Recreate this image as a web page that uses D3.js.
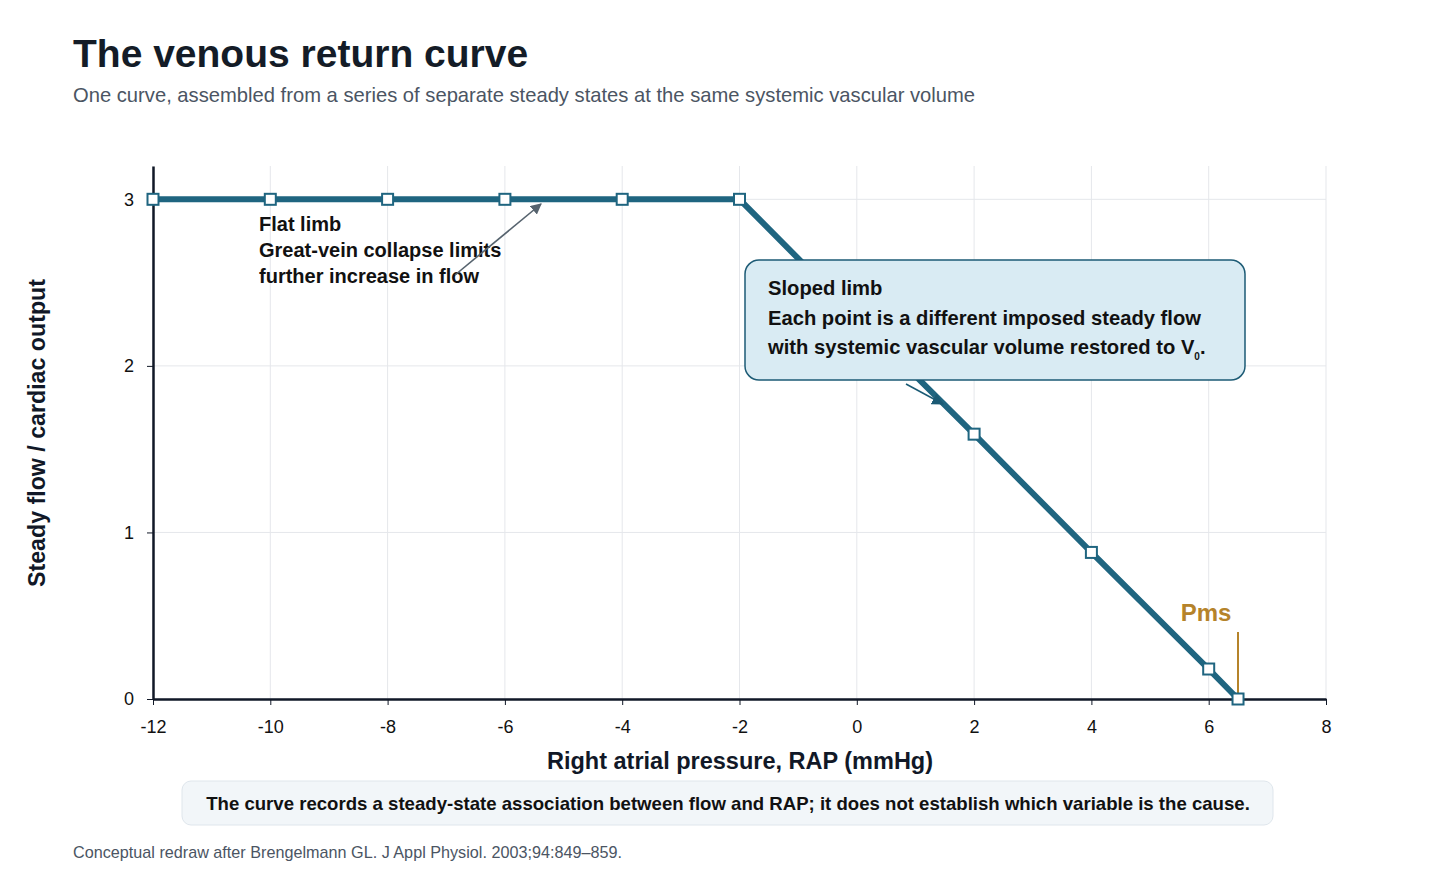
<!DOCTYPE html>
<html>
<head>
<meta charset="utf-8">
<script src="https://cdn.jsdelivr.net/npm/d3@7"></script>
<style>
  html, body { margin: 0; padding: 0; background: #fff; }
  svg { display: block; font-family: "Liberation Sans", Arial, Helvetica, sans-serif; }
</style>
</head>
<body>
<svg id="chart" width="1456" height="890"></svg>
<script>
// ---- data ----
const rapValues  = [-12, -10, -8, -6, -4, -2, 0, 2, 4, 6, 6.5];
const flowValues = [3, 3, 3, 3, 3, 3, 2.29, 1.59, 0.88, 0.18, 0];
const xTicks = [-12, -10, -8, -6, -4, -2, 0, 2, 4, 6, 8];
const yTicks = [0, 1, 2, 3];
const pmsValue = 6.5;
const titleText = "The venous return curve";
const subtitleText = "One curve, assembled from a series of separate steady states at the same systemic vascular volume";
const xLabel = "Right atrial pressure, RAP (mmHg)";
const yLabel = "Steady flow / cardiac output";
const flatLimbLines = ["Flat limb", "Great-vein collapse limits", "further increase in flow"];
const slopedLimbLines = ["Sloped limb", "Each point is a different imposed steady flow", "with systemic vascular volume restored to V"];
const noteText = "The curve records a steady-state association between flow and RAP; it does not establish which variable is the cause.";
const sourceText = "Conceptual redraw after Brengelmann GL. J Appl Physiol. 2003;94:849\u2013859.";

const data = rapValues.map((x, i) => ({ x, y: flowValues[i] }));

const svg = d3.select("#chart");
const m = { left: 153, right: 1326, top: 166, bottom: 699 };
const x = d3.scaleLinear().domain([-12, 8]).range([m.left, m.right]);
const y = d3.scaleLinear().domain([0, 3.2]).range([m.bottom, m.top]);

const lineColor = "#1f6580";
const ink = "#111827";

// defs
const defs = svg.append("defs");
defs.append("marker").attr("id", "arrGray").attr("viewBox", "0 0 10 10")
  .attr("refX", 9).attr("refY", 5).attr("markerWidth", 11).attr("markerHeight", 11)
  .attr("orient", "auto").attr("markerUnits", "userSpaceOnUse")
  .append("path").attr("d", "M0,0 L10,5 L0,10 z").attr("fill", "#56636e");
defs.append("marker").attr("id", "arrTeal").attr("viewBox", "0 0 10 10")
  .attr("refX", 9).attr("refY", 5).attr("markerWidth", 12).attr("markerHeight", 12)
  .attr("orient", "auto").attr("markerUnits", "userSpaceOnUse")
  .append("path").attr("d", "M0,0 L10,5 L0,10 z").attr("fill", "#1a5a74");

// title
svg.append("text").attr("x", 73).attr("y", 67).attr("font-size", 39).attr("font-weight", 700)
  .attr("fill", "#141c27").text(titleText);
svg.append("text").attr("x", 73).attr("y", 102).attr("font-size", 20.2).attr("fill", "#4b5563")
  .text(subtitleText);

// grid
const grid = svg.append("g");
grid.selectAll(".gx").data(xTicks).join("line")
  .attr("x1", d => x(d)).attr("x2", d => x(d)).attr("y1", m.top).attr("y2", m.bottom)
  .attr("stroke", "#e5e7eb").attr("stroke-width", 1);
grid.selectAll(".gy").data(yTicks).join("line")
  .attr("x1", m.left).attr("x2", m.right).attr("y1", d => y(d)).attr("y2", d => y(d))
  .attr("stroke", "#e5e7eb").attr("stroke-width", 1);

// axes
const xAxis = svg.append("g").attr("transform", `translate(0,${m.bottom})`)
  .call(d3.axisBottom(x).tickValues(xTicks).tickSize(6).tickSizeOuter(0).tickFormat(d => String(d)));
xAxis.attr("font-size", null).attr("font-family", null);
xAxis.select(".domain").attr("stroke", ink).attr("stroke-width", 2.5);
xAxis.selectAll(".tick line").attr("stroke", ink);
xAxis.selectAll(".tick text").style("font-size", "18px").attr("fill", "#111").attr("y", 21).attr("dy", "0.71em");

const yAxis = svg.append("g").attr("transform", `translate(${m.left},0)`)
  .call(d3.axisLeft(y).tickValues(yTicks).tickSize(6).tickSizeOuter(0).tickFormat(d3.format("d")));
yAxis.attr("font-size", null).attr("font-family", null);
yAxis.select(".domain").attr("stroke", ink).attr("stroke-width", 2.5);
yAxis.selectAll(".tick line").attr("stroke", ink);
yAxis.selectAll(".tick text").style("font-size", "18px").attr("fill", "#111").attr("x", -19);

// axis labels
svg.append("text").attr("x", 740).attr("y", 769).attr("text-anchor", "middle")
  .attr("font-size", 23.5).attr("font-weight", 700).attr("fill", ink).text(xLabel);
svg.append("text").attr("transform", `translate(45,${433}) rotate(-90)`)
  .attr("text-anchor", "middle").attr("font-size", 23.2).attr("font-weight", 700).attr("fill", ink)
  .text(yLabel);

// Pms marker
svg.append("line").attr("x1", x(pmsValue)).attr("x2", x(pmsValue)).attr("y1", 632).attr("y2", m.bottom)
  .attr("stroke", "#b5832a").attr("stroke-width", 2);
svg.append("text").attr("x", x(pmsValue) - 32).attr("y", 621).attr("text-anchor", "middle")
  .attr("font-size", 24).attr("font-weight", 700).attr("fill", "#b5832a").text("Pms");

// curve
svg.append("path").datum(data)
  .attr("d", d3.line().x(d => x(d.x)).y(d => y(d.y)))
  .attr("fill", "none").attr("stroke", lineColor).attr("stroke-width", 6)
  .attr("stroke-linejoin", "round");
svg.selectAll(".pt").data(data).join("rect")
  .attr("x", d => x(d.x) - 5.5).attr("y", d => y(d.y) - 5.5)
  .attr("width", 11).attr("height", 11)
  .attr("fill", "#fff").attr("stroke", lineColor).attr("stroke-width", 2);

// flat limb annotation
const fl = svg.append("text").attr("font-size", 20).attr("font-weight", 700).attr("fill", "#111");
flatLimbLines.forEach((t, i) => {
  fl.append("tspan").attr("x", 259).attr("y", 231 + i * 26).text(t);
});
svg.append("line").attr("x1", 455).attr("y1", 275).attr("x2", 541).attr("y2", 204)
  .attr("stroke", "#56636e").attr("stroke-width", 1.6).attr("marker-end", "url(#arrGray)");

// sloped limb arrow
svg.append("line").attr("x1", 906).attr("y1", 384).attr("x2", 943).attr("y2", 404)
  .attr("stroke", "#1a5a74").attr("stroke-width", 1.5).attr("marker-end", "url(#arrTeal)");

// callout box
svg.append("rect").attr("x", 745).attr("y", 260).attr("width", 500).attr("height", 120).attr("rx", 14)
  .attr("fill", "#d9ebf3").attr("stroke", "#1d5b75").attr("stroke-width", 1.5);
const sl = svg.append("text").attr("font-size", 20.2).attr("font-weight", 700).attr("fill", "#111");
slopedLimbLines.forEach((t, i) => {
  sl.append("tspan").attr("x", 768).attr("y", 295 + i * 29.5).text(t);
});
sl.append("tspan").attr("font-size", 10).attr("dy", 6).text("0");
sl.append("tspan").attr("dy", -6).text(".");

// note box
svg.append("rect").attr("x", 182).attr("y", 781).attr("width", 1091).attr("height", 44).attr("rx", 9)
  .attr("fill", "#f2f6f9").attr("stroke", "#dfe6ec").attr("stroke-width", 1);
svg.append("text").attr("x", 728).attr("y", 810).attr("text-anchor", "middle")
  .attr("font-size", 18.6).attr("font-weight", 700).attr("fill", "#111").text(noteText);

// source
svg.append("text").attr("x", 73).attr("y", 858).attr("font-size", 16.2).attr("fill", "#4b5563").text(sourceText);
</script>
</body>
</html>
